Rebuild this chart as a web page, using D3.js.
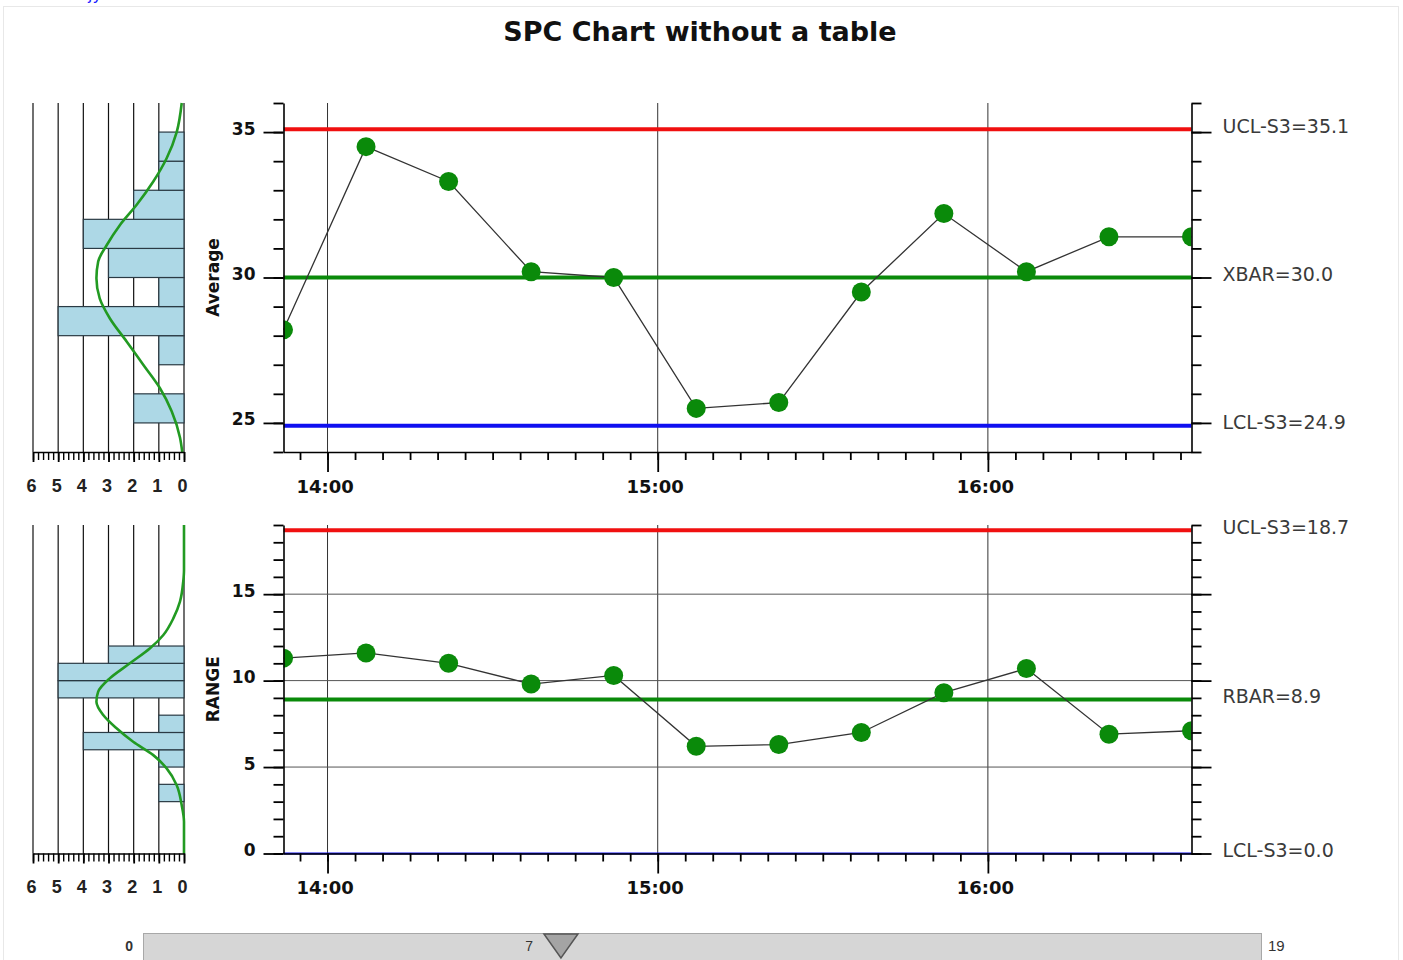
<!DOCTYPE html>
<html><head><meta charset="utf-8">
<script src="https://cdn.jsdelivr.net/npm/d3@7"></script>
<style>body{margin:0;background:#fff;overflow:hidden}svg{display:block}</style>
</head><body>
<svg id="chart" width="1403" height="960"></svg>
<script>
// ---------------- data ----------------
const titleText = "SPC Chart without a table";
const timeLabels = ["13:52","14:07","14:22","14:37","14:52","15:07","15:22","15:37","15:52","16:07","16:22","16:37"];
const averageValues = [28.2, 34.5, 33.3, 30.2, 30.0, 25.5, 25.7, 29.5, 32.2, 30.2, 31.4, 31.4];
const rangeValues   = [11.3, 11.6, 11.0, 9.8, 10.3, 6.2, 6.3, 7.0, 9.3, 10.7, 6.9, 7.1];

const avgLimitValues = [35.1, 30.0, 24.9];
const avgLimitLabels = ["UCL-S3=35.1", "XBAR=30.0", "LCL-S3=24.9"];
const rangeLimitValues = [18.7, 8.9, 0.0];
const rangeLimitLabels = ["UCL-S3=18.7", "RBAR=8.9", "LCL-S3=0.0"];

const avgDomain = [24, 36];
const avgMajorTicks = [25, 30, 35];
const rangeDomain = [0, 19];
const rangeMajorTicks = [0, 5, 10, 15];

const avgBinStarts = [25, 26, 27, 28, 29, 30, 31, 32, 33, 34];
const avgBinCounts = [2, 0, 1, 5, 1, 3, 4, 2, 1, 1];
const rangeBinStarts = [3, 4, 5, 6, 7, 8, 9, 10, 11];
const rangeBinCounts = [1, 0, 1, 4, 1, 0, 5, 5, 3];

const avgCurveValues = [36, 35.0, 34.1, 33.3, 32.5, 31.8, 31.1, 30.55, 29.97, 29.28, 28.6, 27.8, 27.0, 26.2, 25.4, 24.5, 24.0];
const avgCurveCounts = [0.09, 0.29, 0.69, 1.22, 1.88, 2.55, 3.08, 3.41, 3.48, 3.35, 2.95, 2.28, 1.62, 0.96, 0.49, 0.16, 0.07];
const rangeCurveValues = [19, 16.4, 15.73, 14.57, 13.61, 12.64, 11.87, 11.0, 10.13, 9.36, 8.78, 8.01, 7.24, 6.46, 5.69, 4.92, 3.95, 2.79, 1.83, 0];
const rangeCurveCounts = [0, 0, 0.03, 0.16, 0.42, 0.82, 1.35, 2.15, 2.95, 3.41, 3.48, 3.21, 2.68, 2.02, 1.22, 0.69, 0.29, 0.09, 0, 0];

const histDomain = [0, 6];
const sliderMin = 0, sliderMax = 19, sliderValue = 7;

// ---------------- drawing ----------------
const svg = d3.select("#chart");
const parseT = d3.timeParse("%H:%M");
const times = timeLabels.map(parseT);
const LEFT = 283.5, RIGHT = 1191.5;
const x = d3.scaleTime().domain([times[0], times[times.length - 1]]).range([LEFT, RIGHT]);
const hx = d3.scaleLinear().domain(histDomain).range([184, 33]);
const limitColors = ["#f01010", "#0a8a0a", "#1010f0"];
const FONT = "'DejaVu Sans', Verdana, sans-serif";

// frame
svg.append("rect").attr("x", 3.5).attr("y", 6.5).attr("width", 1395).attr("height", 970)
  .attr("fill", "none").attr("stroke", "#e8e8e8");
svg.append("text").attr("x", 88).attr("y", 0).attr("fill", "#1a1aff")
  .attr("font-family", FONT).attr("font-size", 16).text("jy");

svg.append("text").attr("x", 700).attr("y", 41).attr("text-anchor", "middle")
  .attr("font-family", "'Comic Sans MS', 'DejaVu Sans', sans-serif").attr("font-weight", "bold")
  .attr("font-size", 27).attr("fill", "#111").text(titleText);

function panel(cfg) {
  const y = d3.scaleLinear().domain(cfg.domain).range([cfg.bottom, cfg.top]);
  const g = svg.append("g");
  const clipId = "clip" + cfg.id;
  svg.append("clipPath").attr("id", clipId).append("rect")
    .attr("x", LEFT).attr("y", cfg.top - 20).attr("width", RIGHT - LEFT).attr("height", cfg.bottom - cfg.top + 40);

  // vertical hour grid
  g.append("g").selectAll("line").data(x.ticks(d3.timeHour)).join("line")
    .attr("x1", d => x(d)).attr("x2", d => x(d)).attr("y1", cfg.top).attr("y2", cfg.bottom)
    .attr("stroke", "#333").attr("stroke-width", 1);
  // horizontal grid
  if (cfg.hgrid) {
    g.append("g").selectAll("line").data(cfg.majorTicks.filter(v => v > cfg.domain[0])).join("line")
      .attr("x1", LEFT).attr("x2", RIGHT).attr("y1", d => y(d)).attr("y2", d => y(d))
      .attr("stroke", "#555").attr("stroke-width", 1);
  }
  // control limits
  g.append("g").selectAll("line").data(cfg.limitValues).join("line")
    .attr("x1", LEFT).attr("x2", RIGHT).attr("y1", d => y(d)).attr("y2", d => y(d))
    .attr("stroke", (d, i) => limitColors[i])
    .attr("stroke-width", (d, i) => (cfg.thinLcl && i === 2) ? 2 : 4);
  // series
  const pts = cfg.values.map((v, i) => [times[i], v]);
  g.append("path").datum(pts)
    .attr("d", d3.line().x(d => x(d[0])).y(d => y(d[1])))
    .attr("fill", "none").attr("stroke", "#333").attr("stroke-width", 1.3);
  g.append("g").attr("clip-path", `url(#${clipId})`).selectAll("circle").data(pts).join("circle")
    .attr("cx", d => x(d[0])).attr("cy", d => y(d[1])).attr("r", 9.5).attr("fill", "#0a8a0a");

  // axes
  const minor = d3.range(cfg.domain[0], cfg.domain[1] + 0.001, 1);
  const styleAxis = sel => {
    sel.selectAll("path.domain").attr("stroke", "#000").attr("stroke-width", 1.6);
    sel.selectAll(".tick line").attr("stroke", "#000").attr("stroke-width", 1.8);
  };
  g.append("g").attr("transform", `translate(${LEFT},0)`)
    .call(d3.axisLeft(y).tickValues(minor).tickSize(10).tickSizeOuter(0).tickFormat(""))
    .call(styleAxis);
  g.append("g").attr("transform", `translate(${LEFT},0)`)
    .call(d3.axisLeft(y).tickValues(cfg.majorTicks).tickSize(20).tickPadding(8).tickFormat(d3.format("d")))
    .call(styleAxis)
    .call(s => s.select("path.domain").remove())
    .call(s => s.selectAll("text").attr("dy", "0.12em").attr("font-family", FONT).attr("font-weight", "bold").attr("font-size", 17).attr("fill", "#111"));
  g.append("g").attr("transform", `translate(${RIGHT},0)`)
    .call(d3.axisRight(y).tickValues(minor).tickSize(10).tickSizeOuter(0).tickFormat(""))
    .call(styleAxis);
  g.append("g").attr("transform", `translate(${RIGHT},0)`)
    .call(d3.axisRight(y).tickValues(cfg.majorTicks).tickSize(20).tickFormat(""))
    .call(styleAxis).call(s => s.select("path.domain").remove());
  // x axis
  g.append("g").attr("transform", `translate(0,${cfg.bottom})`)
    .call(d3.axisBottom(x).ticks(d3.timeMinute.every(5)).tickSize(8).tickSizeOuter(0).tickFormat(""))
    .call(styleAxis);
  g.append("g").attr("transform", `translate(0,${cfg.bottom})`)
    .call(d3.axisBottom(x).ticks(d3.timeHour).tickSize(20).tickPadding(8).tickFormat(d3.timeFormat("%H:%M")))
    .call(styleAxis).call(s => s.select("path.domain").remove())
    .call(s => s.selectAll("text").attr("dx", -3).attr("font-family", FONT).attr("font-weight", "bold").attr("font-size", 18).attr("fill", "#111"));

  // right labels
  g.append("g").selectAll("text").data(cfg.limitValues).join("text")
    .attr("x", RIGHT + 31).attr("y", d => y(d) - 2).attr("dominant-baseline", "middle")
    .attr("font-family", FONT).attr("font-size", 19).attr("fill", "#3a3a3a")
    .text((d, i) => cfg.limitLabels[i]);

  // y title
  g.append("text").attr("transform", `translate(219,${(cfg.top + cfg.bottom) / 2}) rotate(-90)`)
    .attr("text-anchor", "middle").attr("font-family", FONT).attr("font-weight", "bold")
    .attr("font-size", 17).attr("fill", "#111").text(cfg.yTitle);

  // histogram
  const h = svg.append("g");
  h.append("g").selectAll("line").data(d3.range(histDomain[0], histDomain[1] + 1)).join("line")
    .attr("x1", d => hx(d)).attr("x2", d => hx(d)).attr("y1", cfg.top).attr("y2", cfg.bottom)
    .attr("stroke", "#111").attr("stroke-width", 1.2);
  h.append("g").selectAll("rect").data(cfg.binStarts.map((b, i) => [b, cfg.binCounts[i]]).filter(d => d[1] > 0)).join("rect")
    .attr("x", d => hx(d[1])).attr("width", d => hx(0) - hx(d[1]))
    .attr("y", d => y(d[0] + 1)).attr("height", d => y(d[0]) - y(d[0] + 1))
    .attr("fill", "#add8e6").attr("stroke", "#2a3a44").attr("stroke-width", 1.2);
  h.append("path").datum(cfg.curveV.map((v, i) => [cfg.curveC[i], v]))
    .attr("d", d3.line().x(d => hx(d[0])).y(d => y(d[1])).curve(d3.curveMonotoneY))
    .attr("fill", "none").attr("stroke", "#229a22").attr("stroke-width", 2.6);
  h.append("g").attr("transform", `translate(0,${cfg.bottom})`)
    .call(d3.axisBottom(hx).tickValues(d3.range(0, 6.001, 0.2)).tickSize(8).tickSizeOuter(0).tickFormat(""))
    .call(styleAxis).call(s => s.selectAll(".tick line").attr("stroke-width", 1.4));
  h.append("g").attr("transform", `translate(0,${cfg.bottom})`)
    .call(d3.axisBottom(hx).tickValues(d3.range(0, 7)).tickSize(10).tickPadding(17).tickFormat(d3.format("d")))
    .call(styleAxis).call(s => s.select("path.domain").remove())
    .call(s => s.selectAll("text").attr("dx", -2).attr("font-family", "'Liberation Sans', Arial, sans-serif").attr("font-weight", "bold").attr("font-size", 18).attr("fill", "#222"));
}

panel({id: "a", top: 103, bottom: 452, domain: avgDomain, majorTicks: avgMajorTicks, values: averageValues,
  limitValues: avgLimitValues, limitLabels: avgLimitLabels, yTitle: "Average", hgrid: false, thinLcl: false,
  binStarts: avgBinStarts, binCounts: avgBinCounts, curveV: avgCurveValues, curveC: avgCurveCounts});
panel({id: "r", top: 525, bottom: 853.5, domain: rangeDomain, majorTicks: rangeMajorTicks, values: rangeValues,
  limitValues: rangeLimitValues, limitLabels: rangeLimitLabels, yTitle: "RANGE", hgrid: true, thinLcl: true,
  binStarts: rangeBinStarts, binCounts: rangeBinCounts, curveV: rangeCurveValues, curveC: rangeCurveCounts});

// slider
const sx = d3.scaleLinear().domain([sliderMin, sliderMax]).range([166, 1238]);
const SF = "'Liberation Sans', Arial, sans-serif";
svg.append("rect").attr("x", 143.5).attr("y", 933.5).attr("width", 1118).attr("height", 40)
  .attr("fill", "#d6d6d6").attr("stroke", "#a8a8a8");
svg.append("text").attr("x", 133).attr("y", 951).attr("text-anchor", "end")
  .attr("font-family", SF).attr("font-size", 14).attr("font-weight", "bold").attr("fill", "#333").text(sliderMin);
svg.append("text").attr("x", 1268).attr("y", 951)
  .attr("font-family", SF).attr("font-size", 15).attr("fill", "#333").text(sliderMax);
svg.append("text").attr("x", sx(sliderValue) - 28).attr("y", 951).attr("text-anchor", "end")
  .attr("font-family", SF).attr("font-size", 14).attr("fill", "#333").text(sliderValue);
const tx = sx(sliderValue);
svg.append("path").attr("d", `M${tx - 17},934 L${tx + 17},934 L${tx},958 Z`)
  .attr("fill", "#a4a4a4").attr("stroke", "#555").attr("stroke-width", 1.5);
</script>
</body></html>
